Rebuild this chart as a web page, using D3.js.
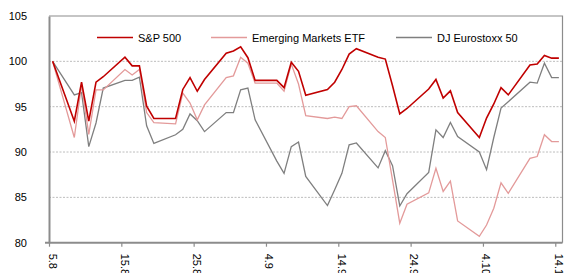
<!DOCTYPE html>
<html>
<head>
<meta charset="utf-8">
<script src="https://cdn.jsdelivr.net/npm/d3@7"></script>
<style>
  body { margin:0; background:#fff; }
  svg { display:block; font-family:"Liberation Sans", Arial, sans-serif; }
</style>
</head>
<body>
<svg id="chart" width="564" height="273"></svg>
<script>
// trading days, Aug 5 - Oct 14 (2011)
const days = [
  "2011-08-05","2011-08-08","2011-08-09","2011-08-10","2011-08-11","2011-08-12",
  "2011-08-15","2011-08-16","2011-08-17","2011-08-18","2011-08-19",
  "2011-08-22","2011-08-23","2011-08-24","2011-08-25","2011-08-26",
  "2011-08-29","2011-08-30","2011-08-31","2011-09-01","2011-09-02",
  "2011-09-05","2011-09-06","2011-09-07","2011-09-08","2011-09-09",
  "2011-09-12","2011-09-13","2011-09-14","2011-09-15","2011-09-16",
  "2011-09-19","2011-09-20","2011-09-21","2011-09-22","2011-09-23",
  "2011-09-26","2011-09-27","2011-09-28","2011-09-29","2011-09-30",
  "2011-10-03","2011-10-04","2011-10-05","2011-10-06","2011-10-07",
  "2011-10-10","2011-10-11","2011-10-12","2011-10-13","2011-10-14"
];

const sp500 = [100, 93.4, 97.7, 93.4, 97.7, 98.3,
  100.45, 99.5, 99.5, 95.05, 93.7,
  93.7, 96.9, 98.2, 96.7, 98.0,
  100.9, 101.15, 101.6, 100.4, 97.9,
  97.9, 97.1, 99.9, 98.9, 96.25,
  96.9, 97.7, 99.1, 100.8, 101.4,
  100.45, 100.25, 97.3, 94.2, 94.8,
  96.95, 98.0, 95.95, 96.75, 94.35,
  91.6, 93.75, 95.3, 97.1, 96.3,
  99.6, 99.7, 100.65, 100.35, 100.35];

const emergingEtf = [100, 91.6, 97.4, 91.95, 96.85, 96.85,
  99.1, 98.5, 99.1, 94.35, 93.25,
  93.1, 96.5, 95.4, 93.55, 95.2,
  98.2, 98.4, 100.45, 99.8, 97.6,
  97.6, 96.7, 99.7, 97.5, 94.0,
  93.7, 93.85, 93.7, 95.0, 95.1,
  92.25, 91.6, 86.9, 82.15, 84.25,
  85.5, 88.2, 85.65, 86.8, 82.4,
  80.7, 81.95, 83.8, 86.6, 85.45,
  89.3, 89.5, 91.9, 91.15, 91.15];

const eurostoxx = [100, 96.3, 96.55, 90.6, 93.2, 97.05,
  97.9, 97.9, 98.25, 92.9, 90.95,
  91.9, 92.5, 94.2, 93.45, 92.25,
  94.35, 94.35, 96.85, 97.05, 93.55,
  89.0, 87.65, 90.6, 91.1, 87.3,
  84.1, 85.85, 87.65, 90.8, 91.0,
  88.25, 90.15, 88.5, 84.05, 85.4,
  87.75, 92.45, 91.6, 93.25, 91.7,
  90.0, 88.05, 91.6, 94.85, 95.55,
  97.7, 97.6, 99.8, 98.2, 98.2];

const xTickDays = ["2011-08-05","2011-08-15","2011-08-25","2011-09-04","2011-09-14","2011-09-24","2011-10-04","2011-10-14"];
const xTickLabels = ["5.8","15.8","25.8","4.9","14.9","24.9","4.10","14.10"];
const yTicks = [80, 85, 90, 95, 100, 105];

const seriesNames = ["S&P 500", "Emerging Markets ETF", "DJ Eurostoxx 50"];
const seriesColors = ["#c00000", "#e39a9a", "#7f7f7f"];

const parse = d3.utcParse("%Y-%m-%d");
const svg = d3.select("#chart");

const x = d3.scaleUtc()
    .domain([parse("2011-08-05"), parse("2011-10-15")])
    .range([49, 562.5]);
const y = d3.scaleLinear().domain([80, 105]).range([242.7, 16]);

// points sit in the middle of their day
const mid = s => d3.utcHour.offset(parse(s), 12);

// gridlines
svg.append("g")
  .selectAll("line")
  .data(yTicks.filter(v => v > 80 && v < 105))
  .join("line")
    .attr("x1", 49).attr("x2", 562.5)
    .attr("y1", d => y(d)).attr("y2", d => y(d))
    .attr("stroke", "#bdbdbd")
    .attr("stroke-dasharray", "2,1.5");

// frame top & right
svg.append("path")
  .attr("d", `M${x.range()[0]},${y(105)}H${x.range()[1]}V${y(80)}`)
  .attr("fill", "none").attr("stroke", "#8c8c8c").attr("stroke-width", 1.2);

// y axis
const yAxis = svg.append("g").attr("transform", "translate(49,0)")
  .call(d3.axisLeft(y).tickValues(yTicks).tickSize(0).tickPadding(22));
yAxis.select(".domain").attr("stroke", "#8c8c8c").attr("stroke-width", 2);
yAxis.selectAll("text").attr("font-size", 11).attr("fill", "#000")
  .attr("font-family", "Liberation Sans, Arial, sans-serif");

// x axis
const xAxis = svg.append("g").attr("transform", `translate(0,${y(80)})`)
  .call(d3.axisBottom(x)
    .tickValues(xTickDays.map(parse))
    .tickFormat((d, i) => xTickLabels[i])
    .tickSize(4).tickSizeOuter(0));
xAxis.select(".domain").attr("stroke", "#8c8c8c").attr("stroke-width", 2)
  .attr("d", `M45,0H${x.range()[1]}`);
xAxis.selectAll(".tick line").attr("stroke", "#8c8c8c").attr("stroke-width", 1.2);
xAxis.selectAll("text")
  .attr("font-size", 11).attr("fill", "#000")
  .attr("font-family", "Liberation Sans, Arial, sans-serif")
  .attr("text-anchor", "start")
  .attr("dy", null)
  .attr("y", 0)
  .attr("transform", "translate(-1,11) rotate(90)");

// lines
const line = d3.line()
  .x((d, i) => x(mid(days[i])))
  .y(d => y(d));

svg.append("g")
  .selectAll("path")
  .data([eurostoxx, emergingEtf, sp500])
  .join("path")
    .attr("fill", "none")
    .attr("stroke", (d, i) => seriesColors[2 - i])
    .attr("stroke-width", (d, i) => i === 2 ? 1.6 : 1.3)
    .attr("stroke-linejoin", "miter")
    .attr("d", line);

// legend
const legendPos = [97, 211, 396];
const legend = svg.append("g")
  .selectAll("g")
  .data(seriesNames)
  .join("g")
    .attr("transform", (d, i) => `translate(${legendPos[i]},37.5)`);
legend.append("line")
  .attr("x1", 0).attr("x2", 36)
  .attr("stroke", (d, i) => seriesColors[i])
  .attr("stroke-width", (d, i) => i === 0 ? 1.6 : 1.3);
legend.append("text")
  .attr("x", 41).attr("y", 4)
  .attr("font-size", 11)
  .attr("fill", "#000")
  .text(d => d);
</script>
</body>
</html>
